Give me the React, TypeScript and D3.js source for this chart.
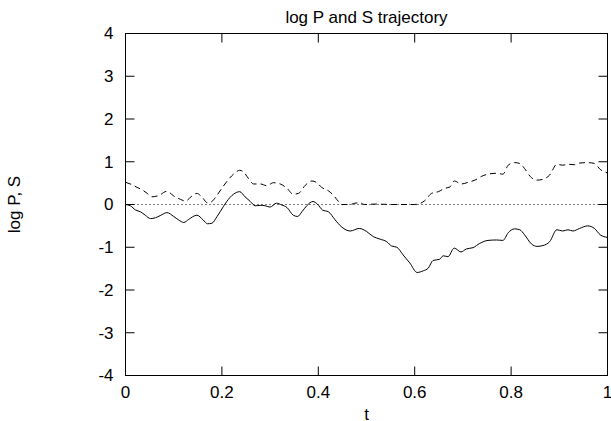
import React from "react";
import * as d3 from "d3";

const W = 611;
const H = 421;

const titleText = "log P and S trajectory";
const xLabel = "t";
const yLabel = "log P, S";

const xTicks = [0, 0.2, 0.4, 0.6, 0.8, 1];
const xTickLabels = ["0", "0.2", "0.4", "0.6", "0.8", "1"];
const yTicks = [-4, -3, -2, -1, 0, 1, 2, 3, 4];
const yTickLabels = ["-4", "-3", "-2", "-1", "0", "1", "2", "3", "4"];

// log P path
const tP = [
  0, 0.01, 0.021, 0.031, 0.041, 0.052, 0.062, 0.072, 0.086, 0.1, 0.11, 0.121, 0.131, 0.148, 0.161, 0.17,
  0.179, 0.19, 0.203, 0.21, 0.224, 0.237, 0.248, 0.259, 0.269, 0.28, 0.29, 0.3, 0.313, 0.324, 0.335,
  0.348, 0.357, 0.366, 0.376, 0.389, 0.398, 0.409, 0.421, 0.435, 0.449, 0.466, 0.485, 0.5, 0.514,
  0.528, 0.542, 0.552, 0.563, 0.576, 0.59, 0.605, 0.618, 0.628, 0.638, 0.652, 0.659, 0.669, 0.682,
  0.696, 0.707, 0.721, 0.735, 0.752, 0.77, 0.783, 0.794, 0.807, 0.818, 0.828, 0.842, 0.854, 0.866,
  0.88, 0.895, 0.907, 0.918, 0.928, 0.942, 0.959, 0.973, 0.985, 1.0,
];
const logP = [
  0, -0.03, -0.13, -0.17, -0.25, -0.33, -0.31, -0.26, -0.19, -0.28, -0.36, -0.42, -0.35, -0.25, -0.36, -0.45,
  -0.44, -0.28, -0.05, 0.07, 0.24, 0.3, 0.18, 0.07, -0.03, -0.02, -0.03, -0.06, 0.03, -0.01, -0.07,
  -0.25, -0.28, -0.17, -0.03, 0.07, 0.01, -0.13, -0.17, -0.36, -0.53, -0.62, -0.56, -0.63, -0.75,
  -0.81, -0.87, -0.97, -1.0, -1.18, -1.37, -1.59, -1.55, -1.49, -1.31, -1.28, -1.2, -1.22, -1.02,
  -1.11, -1.04, -1.01, -0.91, -0.84, -0.83, -0.84, -0.66, -0.57, -0.59, -0.71, -0.92, -0.98, -0.96,
  -0.87, -0.59, -0.62, -0.59, -0.62, -0.56, -0.5, -0.56, -0.71, -0.77,
];

// S path
const tS = [
  0, 0.014, 0.024, 0.035, 0.045, 0.055, 0.069, 0.086, 0.1, 0.114, 0.124, 0.138, 0.148, 0.159, 0.17, 0.179,
  0.19, 0.203, 0.214, 0.224, 0.237, 0.245, 0.255, 0.266, 0.28, 0.293, 0.307, 0.321, 0.335, 0.348,
  0.359, 0.373, 0.387, 0.397, 0.407, 0.421, 0.431, 0.442, 0.449, 0.466, 0.476, 0.487, 0.495, 0.52,
  0.55, 0.6, 0.607, 0.621, 0.635, 0.649, 0.663, 0.673, 0.682, 0.697, 0.711, 0.725, 0.739, 0.752,
  0.77, 0.783, 0.794, 0.807, 0.818, 0.828, 0.842, 0.854, 0.866, 0.88, 0.895, 0.907, 0.92, 0.932,
  0.942, 0.959, 0.973, 0.985, 1.0,
];
const sVals = [
  0.52, 0.46, 0.4, 0.34, 0.26, 0.18, 0.21, 0.31, 0.2, 0.12, 0.08, 0.2, 0.26, 0.17, 0.04, 0.07,
  0.22, 0.43, 0.59, 0.71, 0.8, 0.76, 0.61, 0.48, 0.48, 0.44, 0.51, 0.48, 0.38, 0.24,
  0.26, 0.45, 0.55, 0.51, 0.4, 0.32, 0.22, 0.07, 0, 0, 0.03, 0.04, 0, 0.01,
  0, 0, 0.01, 0.09, 0.26, 0.3, 0.38, 0.41, 0.55, 0.48, 0.52, 0.57, 0.66, 0.71,
  0.73, 0.71, 0.92, 0.98, 0.96, 0.84, 0.63, 0.57, 0.59, 0.69, 0.94, 0.92, 0.94, 0.93,
  0.97, 0.98, 0.96, 0.82, 0.74,
];

const FONT = "'Liberation Sans', Arial, Helvetica, sans-serif";

export default function App() {
  const x = d3.scaleLinear().domain([0, 1]).range([125.5, 607.5]);
  const y = d3.scaleLinear().domain([-4, 4]).range([375.5, 33.5]);
  const [x0, x1] = x.range();
  const [yb, yt] = y.range();
  const tick = 9;

  const line = d3
    .line<[number, number]>()
    .x((d) => x(d[0]))
    .y((d) => y(d[1]))
    .curve(d3.curveMonotoneX);

  const pPts: [number, number][] = tP.map((t, i) => [t, logP[i]]);
  const sPts: [number, number][] = tS.map((t, i) => [t, sVals[i]]);

  return (
    <svg
      width={W}
      height={H}
      style={{ position: "absolute", left: 0, top: 0, background: "#fff" }}
      fontFamily={FONT}
      fontSize={17}
    >
      <rect x={0} y={0} width={W} height={H} fill="#fff" />
      <text x={(x0 + x1) / 2} y={22.5} textAnchor="middle" fill="#000">
        {titleText}
      </text>

      {/* zero reference */}
      <line
        x1={x0}
        x2={x1}
        y1={y(0)}
        y2={y(0)}
        stroke="#000"
        strokeWidth={1}
        strokeDasharray="1,3"
      />

      <path d={line(sPts) || ""} fill="none" stroke="#000" strokeWidth={1} strokeDasharray="6,4" />
      <path d={line(pPts) || ""} fill="none" stroke="#000" strokeWidth={1} />

      {/* frame */}
      <rect x={x0} y={yt} width={x1 - x0} height={yb - yt} fill="none" stroke="#000" strokeWidth={1} />

      {xTicks.map((v, i) => (
        <g key={"xt" + i}>
          <line x1={x(v)} x2={x(v)} y1={yb} y2={yb - tick} stroke="#000" />
          <line x1={x(v)} x2={x(v)} y1={yt} y2={yt + tick} stroke="#000" />
          <text x={x(v)} y={397.5} textAnchor="middle" fill="#000">
            {xTickLabels[i]}
          </text>
        </g>
      ))}
      {yTicks.map((v, i) => (
        <g key={"yt" + i}>
          <line x1={x0} x2={x0 + tick} y1={y(v)} y2={y(v)} stroke="#000" />
          <line x1={x1} x2={x1 - tick} y1={y(v)} y2={y(v)} stroke="#000" />
          <text x={113.5} y={y(v)} dy="0.35em" textAnchor="end" fill="#000">
            {yTickLabels[i]}
          </text>
        </g>
      ))}

      <text x={(x0 + x1) / 2} y={419.5} textAnchor="middle" fill="#000">
        {xLabel}
      </text>
      <text
        transform={`translate(19.5, ${(yt + yb) / 2}) rotate(-90)`}
        textAnchor="middle"
        fill="#000"
      >
        {yLabel}
      </text>
    </svg>
  );
}
